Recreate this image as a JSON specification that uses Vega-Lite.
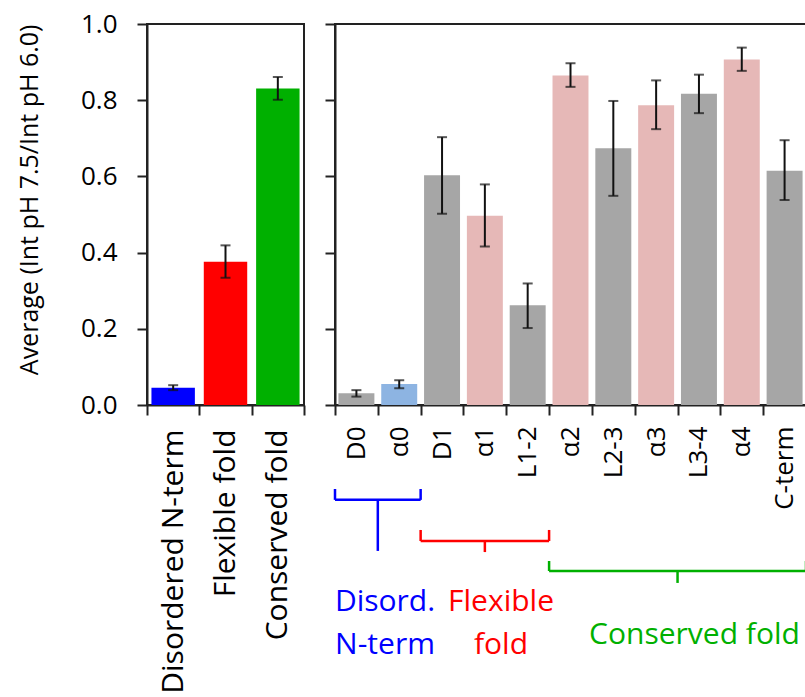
{
  "$schema": "https://vega.github.io/schema/vega-lite/v6.json",
  "padding": {"left": 16, "top": 10, "right": 0, "bottom": 0},
  "background": "white",
  "config": {
    "font": "Open Sans",
    "view": {"stroke": "#222", "strokeWidth": 2},
    "axis": {
      "domainColor": "#222", "domainWidth": 2,
      "tickColor": "#222", "tickWidth": 2, "tickSize": 10,
      "labelColor": "#000", "titleColor": "#000", "grid": false, "labelLimit": 0,
      "labelFont": "Open Sans", "titleFont": "Open Sans", "titleFontWeight": "normal"
    },
    "concat": {"spacing": 15}
  },
  "datasets": {
    "groups": [
      {"group": "Disordered N-term", "cls": "Disordered N-term", "mean": 0.045, "lo": 0.039, "hi": 0.052},
      {"group": "Flexible fold", "cls": "Flexible fold", "mean": 0.376, "lo": 0.334, "hi": 0.419},
      {"group": "Conserved fold", "cls": "Conserved fold", "mean": 0.831, "lo": 0.801, "hi": 0.861}
    ],
    "segments": [
      {"seg": "D0", "cls": "loop", "mean": 0.031, "lo": 0.022, "hi": 0.039},
      {"seg": "α0", "cls": "nhelix", "mean": 0.055, "lo": 0.044, "hi": 0.065},
      {"seg": "D1", "cls": "loop", "mean": 0.603, "lo": 0.502, "hi": 0.703},
      {"seg": "α1", "cls": "helix", "mean": 0.497, "lo": 0.416, "hi": 0.579},
      {"seg": "L1-2", "cls": "loop", "mean": 0.262, "lo": 0.202, "hi": 0.319},
      {"seg": "α2", "cls": "helix", "mean": 0.865, "lo": 0.835, "hi": 0.897},
      {"seg": "L2-3", "cls": "loop", "mean": 0.674, "lo": 0.549, "hi": 0.798},
      {"seg": "α3", "cls": "helix", "mean": 0.787, "lo": 0.724, "hi": 0.852},
      {"seg": "L3-4", "cls": "loop", "mean": 0.817, "lo": 0.766, "hi": 0.867},
      {"seg": "α4", "cls": "helix", "mean": 0.907, "lo": 0.877, "hi": 0.938},
      {"seg": "C-term", "cls": "loop", "mean": 0.615, "lo": 0.538, "hi": 0.695}
    ],
    "brackets": [
      {"cls": "Disordered N-term", "x0": 0, "x1": 2, "y0": -0.249, "y1": -0.249},
      {"cls": "Disordered N-term", "x0": 0, "x1": 0, "y0": -0.2205, "y1": -0.249},
      {"cls": "Disordered N-term", "x0": 2, "x1": 2, "y0": -0.2205, "y1": -0.249},
      {"cls": "Disordered N-term", "x0": 1, "x1": 1, "y0": -0.249, "y1": -0.383},
      {"cls": "Flexible fold", "x0": 2, "x1": 5, "y0": -0.357, "y1": -0.357},
      {"cls": "Flexible fold", "x0": 2, "x1": 2, "y0": -0.328, "y1": -0.357},
      {"cls": "Flexible fold", "x0": 5, "x1": 5, "y0": -0.328, "y1": -0.357},
      {"cls": "Flexible fold", "x0": 3.5, "x1": 3.5, "y0": -0.357, "y1": -0.386},
      {"cls": "Conserved fold", "x0": 5, "x1": 11, "y0": -0.4357, "y1": -0.4357},
      {"cls": "Conserved fold", "x0": 5, "x1": 5, "y0": -0.4094, "y1": -0.4357},
      {"cls": "Conserved fold", "x0": 11, "x1": 11, "y0": -0.4094, "y1": -0.4357},
      {"cls": "Conserved fold", "x0": 8, "x1": 8, "y0": -0.4357, "y1": -0.467}
    ],
    "grouplabels": [
      {"label": "Disord.", "cls": "Disordered N-term", "x": 1.168, "y": -0.5407},
      {"label": "N-term", "cls": "Disordered N-term", "x": 1.168, "y": -0.6535},
      {"label": "Flexible", "cls": "Flexible fold", "x": 3.877, "y": -0.5407},
      {"label": "fold", "cls": "Flexible fold", "x": 3.877, "y": -0.6535},
      {"label": "Conserved fold", "cls": "Conserved fold", "x": 8.396, "y": -0.6273}
    ]
  },
  "hconcat": [
    {
      "width": 157,
      "height": 381,
      "data": {"name": "groups"},
      "encoding": {
        "x": {
          "field": "group", "type": "nominal", "sort": null,
          "scale": {"paddingInner": 0, "paddingOuter": 0},
          "axis": {"title": null, "labelAngle": -90, "labelFontSize": 30, "tickBand": "extent", "labelPadding": 14}
        }
      },
      "layer": [
        {
          "mark": {"type": "bar", "width": {"band": 0.83}},
          "encoding": {
            "y": {
              "field": "mean", "type": "quantitative", "scale": {"domain": [0, 1]},
              "title": "Average (Int pH 7.5/Int pH 6.0)",
              "axis": {"values": [0, 0.2, 0.4, 0.6, 0.8, 1.0], "format": ".1f", "labelFontSize": 26, "labelPadding": 20, "titleFontSize": 25, "titlePadding": 38, "titleAnchor": "end"}
            },
            "color": {
              "field": "cls", "type": "nominal", "legend": null,
              "scale": {
                "domain": ["loop", "helix", "nhelix", "Disordered N-term", "Flexible fold", "Conserved fold"],
                "range": ["#a6a6a6", "#e6b8b7", "#8db4e2", "#0000ff", "#ff0000", "#00b000"]
              }
            }
          }
        },
        {
          "mark": {"type": "rule", "color": "#111", "strokeWidth": 2},
          "encoding": {
            "y": {"field": "lo", "type": "quantitative", "scale": {"domain": [0, 1]}, "title": "Average (Int pH 7.5/Int pH 6.0)"},
            "y2": {"field": "hi"}
          }
        },
        {
          "mark": {"type": "tick", "color": "#111", "thickness": 2, "size": 10},
          "encoding": {"y": {"field": "lo", "type": "quantitative", "scale": {"domain": [0, 1]}, "title": "Average (Int pH 7.5/Int pH 6.0)"}}
        },
        {
          "mark": {"type": "tick", "color": "#111", "thickness": 2, "size": 10},
          "encoding": {"y": {"field": "hi", "type": "quantitative", "scale": {"domain": [0, 1]}, "title": "Average (Int pH 7.5/Int pH 6.0)"}}
        }
      ]
    },
    {
      "width": 471,
      "height": 381,
      "layer": [
        {
          "data": {"name": "segments"},
          "encoding": {
            "x": {
              "field": "seg", "type": "nominal", "sort": null,
              "scale": {"paddingInner": 0, "paddingOuter": 0},
              "axis": {"title": null, "labelAngle": -90, "labelFontSize": 26, "tickBand": "extent", "labelPadding": 11}
            }
          },
          "layer": [
            {
              "mark": {"type": "bar", "width": {"band": 0.84}},
              "encoding": {
                "y": {"field": "mean", "type": "quantitative", "scale": {"domain": [0, 1]}, "axis": {"values": [0, 0.2, 0.4, 0.6, 0.8, 1.0], "labels": false, "title": null}},
                "color": {"field": "cls", "type": "nominal", "legend": null}
              }
            },
            {
              "mark": {"type": "rule", "color": "#111", "strokeWidth": 2},
              "encoding": {
                "y": {"field": "lo", "type": "quantitative", "scale": {"domain": [0, 1]}, "title": null},
                "y2": {"field": "hi"}
              }
            },
            {
              "mark": {"type": "tick", "color": "#111", "thickness": 2, "size": 10},
              "encoding": {"y": {"field": "lo", "type": "quantitative", "scale": {"domain": [0, 1]}, "title": null}}
            },
            {
              "mark": {"type": "tick", "color": "#111", "thickness": 2, "size": 10},
              "encoding": {"y": {"field": "hi", "type": "quantitative", "scale": {"domain": [0, 1]}, "title": null}}
            }
          ]
        },
        {
          "data": {"name": "brackets"},
          "mark": {"type": "rule", "strokeWidth": 2.5},
          "encoding": {
            "x": {"field": "x0", "type": "quantitative", "scale": {"domain": [0, 11], "nice": false, "zero": false}, "axis": null},
            "x2": {"field": "x1"},
            "y": {"field": "y0", "type": "quantitative", "scale": {"domain": [0, 1]}, "title": null},
            "y2": {"field": "y1"},
            "color": {"field": "cls", "type": "nominal", "legend": null}
          }
        },
        {
          "data": {"name": "grouplabels"},
          "mark": {"type": "text", "fontSize": 30, "align": "center", "baseline": "alphabetic", "font": "Open Sans"},
          "encoding": {
            "x": {"field": "x", "type": "quantitative", "scale": {"domain": [0, 11], "nice": false, "zero": false}, "axis": null},
            "y": {"field": "y", "type": "quantitative", "scale": {"domain": [0, 1]}, "title": null},
            "text": {"field": "label"},
            "color": {"field": "cls", "type": "nominal", "legend": null}
          }
        }
      ],
      "resolve": {"scale": {"x": "independent"}}
    }
  ]
}
